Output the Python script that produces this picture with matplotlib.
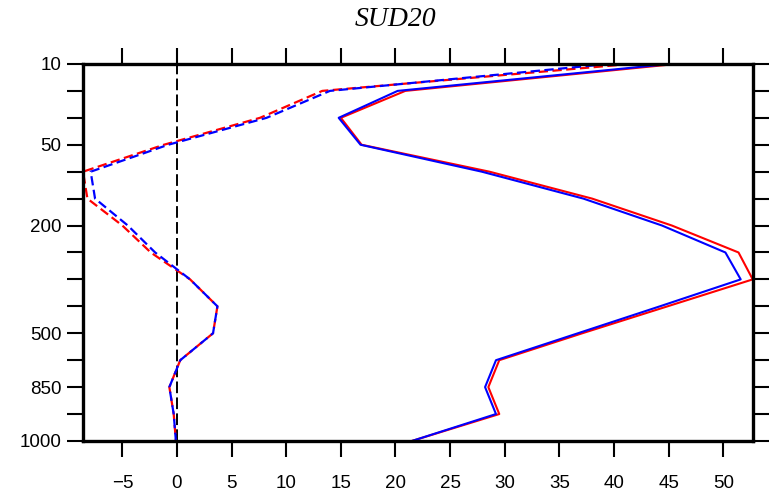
import matplotlib.pyplot as plt
import numpy as np

# 层次（等距排列的气压层）
level_labels = ["10", "", "", "50", "", "", "200", "", "", "", "500", "", "850", "", "1000"]

# 实线（两组）
red_solid = [45.7, 20.9, 15.0, 16.9, 28.6, 38.0, 45.3, 51.4, 52.7, 44.9, 37.1, 29.5, 28.5, 29.5, 21.5]
blue_solid = [45.1, 20.2, 14.8, 16.8, 27.9, 37.2, 44.4, 50.2, 51.6, 44.2, 36.7, 29.2, 28.2, 29.2, 21.5]

# 虚线（两组）
red_dash = [41.5, 13.3, 7.6, -1.2, -8.6, -8.2, -5.0, -2.4, 1.2, 3.7, 3.3, 0.3, -0.7, -0.3, -0.1]
blue_dash = [39.5, 14.0, 8.2, -0.8, -7.9, -7.5, -4.5, -2.0, 1.2, 3.7, 3.3, 0.3, -0.7, -0.3, -0.1]

xticks = [-5, 0, 5, 10, 15, 20, 25, 30, 35, 40, 45, 50]

plt.rcParams['font.family'] = ['Liberation Sans', 'DejaVu Sans']

fig = plt.figure(figsize=(7.76, 4.92), dpi=100)
ax = fig.add_axes([0.107, 0.1037, 0.863, 0.7663])

y = np.arange(len(level_labels))

ax.axvline(0, color='black', lw=1.4, dashes=(6, 2.2), zorder=1)
ax.plot(red_dash, y, color='red', lw=1.6, dashes=(4.2, 2.0))
ax.plot(blue_dash, y, color='blue', lw=1.6, dashes=(4.2, 2.0))
ax.plot(red_solid, y, color='red', lw=1.5)
ax.plot(blue_solid, y, color='blue', lw=1.5)

allx = red_solid + blue_solid + red_dash + blue_dash
ax.set_xlim(min(allx), max(allx))
ax.set_ylim(len(level_labels) - 1, 0)

ax.set_xticks(xticks)
ax.set_xticklabels([str(v).replace('-', '\u2212') for v in xticks])
ax.set_yticks(y)
ax.set_yticklabels(level_labels)

ax.tick_params(axis='both', direction='out', length=11.5, width=1.5, labelsize=13.5,
               top=True, right=True, labeltop=False, labelright=False)
ax.tick_params(axis='x', pad=13)
ax.tick_params(axis='y', pad=4)
for s in ax.spines.values():
    s.set_linewidth(2.4)

fig.text(395 / 776, 1 - 19 / 492, 'SUD20', fontsize=20, fontstyle='italic',
         family='Liberation Serif', ha='center', va='center')

fig.savefig('out.png', dpi=100)
